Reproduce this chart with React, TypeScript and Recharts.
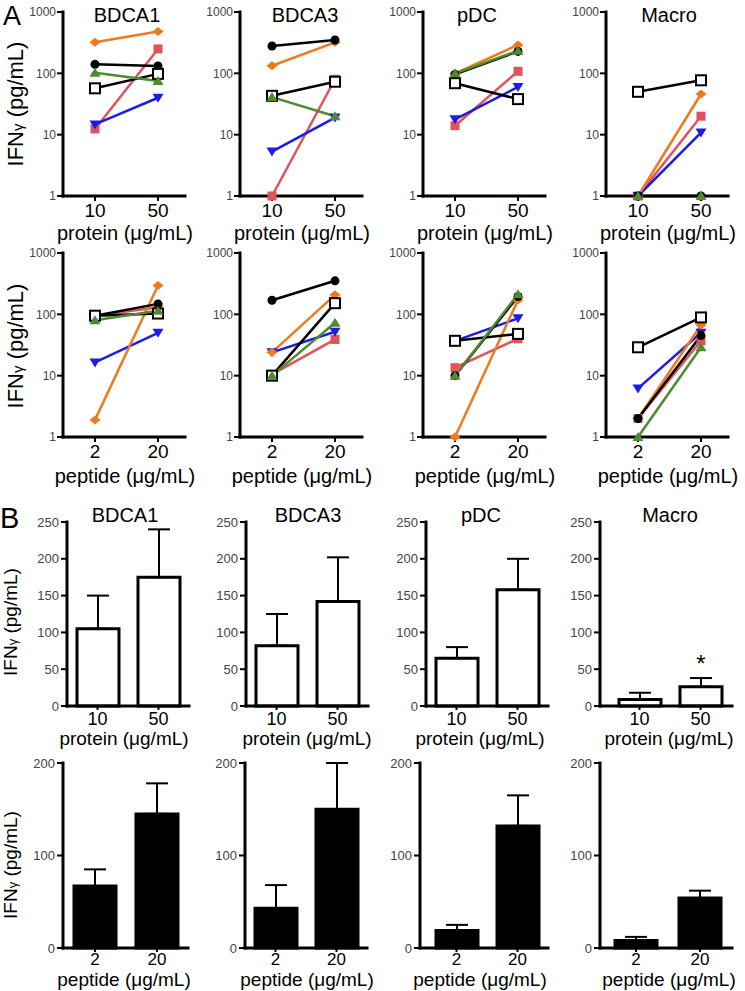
import React from 'react';
import { LineChart, Line, BarChart, Bar, XAxis, YAxis, ErrorBar, LabelList } from 'recharts';

const FONT = 'Liberation Sans, Arial, Helvetica, sans-serif';
const NARROW = 'Liberation Sans Narrow, Liberation Sans, Arial, sans-serif';

// ---------- categories / ticks ----------
const proteinDoses = ['10', '50'];
const peptideDoses = ['2', '20'];
const cellTypes = ['BDCA1', 'BDCA3', 'pDC', 'Macro'];
const logTicks = [1, 10, 100, 1000];
const proteinBarTicks = [0, 50, 100, 150, 200, 250];
const peptideBarTicks = [0, 100, 200];

// ---------- panel A: individual donors (pg/mL) ----------
// series: red ■, blue ▼, orange ◆, black ●, open □, green ▲
const protBDCA1 = { red: [12.4, 250], blue: [14.7, 40], orange: [320, 480], black: [140, 132], open: [57, 98], green: [102, 75] };
const protBDCA3 = { red: [1, 80], blue: [5.3, 19], orange: [133, 320], black: [279, 349], open: [43, 73], green: [41, 20] };
const protPDC = { red: [14, 108], blue: [17.8, 60], orange: [100, 290], black: [96, 228], open: [69, 38], green: [100, 234] };
const protMacro = { red: [1, 20], blue: [1, 10.8], orange: [1, 46], black: [1, 1], open: [50, 77], green: [1, 1] };

const pepBDCA1 = { red: [95, 130], blue: [16.4, 50], orange: [1.9, 296], black: [95, 148], open: [95, 103], green: [80, 114] };
const pepBDCA3 = { red: [10.5, 39], blue: [24, 52], orange: [24, 208], black: [170, 352], open: [10, 152], green: [10, 73] };
const pepPDC = { red: [13.5, 40], blue: [37, 86], orange: [1, 172], black: [10, 195], open: [37, 48], green: [10, 213] };
const pepMacro = { red: [2, 37], blue: [6.2, 50], orange: [2, 67], black: [2, 45], open: [29, 89], green: [1, 29] };

// ---------- panel B: mean ± SEM (pg/mL) ----------
const protBarMean = [[105, 175], [82, 142], [65, 158], [9, 26]];
const protBarSEM = [[45, 65], [43, 60], [15, 42], [9, 12]];
const protBarSig = [['', ''], ['', ''], ['', ''], ['', '*']];
const pepBarMean = [[67, 145], [43, 150], [19, 132], [8, 54]];
const pepBarSEM = [[18, 33], [25, 50], [6, 33], [4, 8]];

const ORDER = ['red', 'blue', 'orange', 'black', 'open', 'green'];
const COLORS: Record<string, string> = {
  red: '#E0535C', blue: '#1C1CE6', orange: '#EF7A1E', black: '#000000', open: '#000000', green: '#4E8B2E',
};

function Marker(props: any) {
  const { cx, cy, kind } = props;
  if (cx == null || cy == null) return null;
  switch (kind) {
    case 'orange':
      return <polygon points={`${cx - 5.5},${cy} ${cx},${cy - 4.5} ${cx + 5.5},${cy} ${cx},${cy + 4.5}`} fill={COLORS.orange} />;
    case 'red':
      return <rect x={cx - 4.5} y={cy - 4.5} width={9} height={9} fill={COLORS.red} />;
    case 'black':
      return <circle cx={cx} cy={cy} r={4.5} fill="#000" />;
    case 'open':
      return <rect x={cx - 5} y={cy - 5} width={10} height={10} fill="#fff" stroke="#000" strokeWidth={2} />;
    case 'green':
      return <polygon points={`${cx - 5.5},${cy + 4} ${cx + 5.5},${cy + 4} ${cx},${cy - 5}`} fill={COLORS.green} />;
    case 'blue':
      return <polygon points={`${cx - 5.5},${cy - 4} ${cx + 5.5},${cy - 4} ${cx},${cy + 5}`} fill={COLORS.blue} />;
    default:
      return null;
  }
}

const axisLineStyle = { stroke: '#000', strokeWidth: 3, strokeLinecap: 'square' as const };
const tickLineStyle = { stroke: '#000', strokeWidth: 2 };

function LogPanel({ axisX, top, bottom, doses, values }: any) {
  const YW = 40, MT = 8, MR = 8, XH = 34, plotW = 122;
  const plotH = bottom - top;
  const rows = doses.map((d: string, i: number) => {
    const r: any = { dose: d };
    ORDER.forEach((k) => { r[k] = values[k][i]; });
    return r;
  });
  return (
    <div style={{ position: 'absolute', left: axisX - YW, top: top - MT }}>
      <LineChart width={YW + plotW + MR} height={MT + plotH + XH} data={rows} margin={{ top: MT, right: MR, left: 0, bottom: 0 }}>
        <XAxis dataKey="dose" padding={{ left: 32, right: 27 }} height={XH} interval={0}
          tick={{ fontSize: 19, fill: '#000', fontFamily: FONT }} tickSize={5} tickMargin={3}
          axisLine={axisLineStyle} tickLine={tickLineStyle} />
        <YAxis type="number" scale="log" domain={[1, 1000]} ticks={logTicks} width={YW} interval={0}
          tick={{ fontSize: 12, fill: '#444', fontFamily: NARROW }} tickSize={6} tickMargin={1}
          axisLine={axisLineStyle} tickLine={tickLineStyle} />
        {ORDER.map((k) => (
          <Line key={k} dataKey={k} stroke={COLORS[k]} strokeWidth={2.5} isAnimationActive={false}
            dot={(p: any) => <Marker key={`${k}-${p.index}`} cx={p.cx} cy={p.cy} kind={k} />} activeDot={false} />
        ))}
      </LineChart>
    </div>
  );
}

function BarPanel({ axisX, top, bottom, plotW, padL, padR, doses, means, sems, sig, ticks, max, fill, tickFont, tickGap }: any) {
  const YW = 40, MT = 10, MR = 8, XH = 30;
  const plotH = bottom - top;
  const rows = doses.map((d: string, i: number) => ({
    dose: d, mean: means[i], err: [0, sems[i]], sig: sig ? sig[i] : '',
  }));
  return (
    <div style={{ position: 'absolute', left: axisX - YW, top: top - MT }}>
      <BarChart width={YW + plotW + MR} height={MT + plotH + XH} data={rows} margin={{ top: MT, right: MR, left: 0, bottom: 0 }}>
        <XAxis dataKey="dose" padding={{ left: padL, right: padR }} height={XH} interval={0}
          tick={{ fontSize: tickFont, fill: '#000', fontFamily: FONT }} tickSize={4} tickMargin={tickGap}
          axisLine={axisLineStyle} tickLine={tickLineStyle} />
        <YAxis type="number" domain={[0, max]} ticks={ticks} width={YW} interval={0}
          tick={{ fontSize: 13, fill: '#444', fontFamily: NARROW }} tickSize={6} tickMargin={2}
          axisLine={axisLineStyle} tickLine={tickLineStyle} />
        <Bar dataKey="mean" fill={fill} stroke="#000" strokeWidth={3} barSize={42} isAnimationActive={false}>
          <ErrorBar dataKey="err" direction="y" width={11} stroke="#000" strokeWidth={2} />
          <LabelList dataKey="sig" content={(p: any) => {
            if (!p.value) return null;
            return (
              <text x={p.x + p.width / 2} y={p.y - 15} textAnchor="middle" fontSize={24} fontFamily={FONT} fill="#000">
                {p.value}
              </text>
            );
          }} />
        </Bar>
      </BarChart>
    </div>
  );
}

const aAxisX = [63, 240, 423, 606];
const b1AxisX = [67, 246, 426, 600];
const b1PlotW = [122, 122, 122, 132];
const b1PadL = [0, 0, 0, 9];
const b1PadR = [0, 0, 0, 1];
const b2AxisX = [63, 245, 420, 600];
const b2PlotW = [125, 122, 128, 132];
const b2PadL = [1, 0, 6, 4];
const b2PadR = [0, 0, 0, 0];

function YLabel({ x, y, size, gsize }: any) {
  return (
    <text transform={`translate(${x},${y}) rotate(-90)`} textAnchor="middle" fontSize={size} fontFamily={FONT} fill="#000">
      IFN<tspan fontSize={gsize}>γ</tspan> (pg/mL)
    </text>
  );
}

export default function App() {
  const protLines = [protBDCA1, protBDCA3, protPDC, protMacro];
  const pepLines = [pepBDCA1, pepBDCA3, pepPDC, pepMacro];
  const titleA = [127, 305, 477, 669];
  const titleB = [125, 308, 481, 670];
  return (
    <div style={{ position: 'absolute', left: 0, top: 0, width: 745, height: 991, background: '#fff', overflow: 'hidden' }}>
      {protLines.map((v, i) => (
        <LogPanel key={`pa${i}`} axisX={aAxisX[i]} top={12} bottom={196} doses={proteinDoses} values={v} />
      ))}
      {pepLines.map((v, i) => (
        <LogPanel key={`pb${i}`} axisX={aAxisX[i]} top={253} bottom={437} doses={peptideDoses} values={v} />
      ))}
      {cellTypes.map((c, i) => (
        <BarPanel key={`ba${i}`} axisX={b1AxisX[i]} top={522} bottom={706} plotW={b1PlotW[i]} padL={b1PadL[i]} padR={b1PadR[i]}
          doses={proteinDoses} means={protBarMean[i]} sems={protBarSEM[i]} sig={protBarSig[i]}
          ticks={proteinBarTicks} max={250} fill="#fff" tickFont={18} tickGap={2} />
      ))}
      {cellTypes.map((c, i) => (
        <BarPanel key={`bb${i}`} axisX={b2AxisX[i]} top={763} bottom={948} plotW={b2PlotW[i]} padL={b2PadL[i]} padR={b2PadR[i]}
          doses={peptideDoses} means={pepBarMean[i]} sems={pepBarSEM[i]}
          ticks={peptideBarTicks} max={200} fill="#000" tickFont={17} tickGap={1} />
      ))}
      <svg width={745} height={991} style={{ position: 'absolute', left: 0, top: 0, pointerEvents: 'none' }}>
        <text x={3} y={25} fontSize={27} fontFamily={FONT} fill="#000">A</text>
        <text x={0} y={528} fontSize={29} fontFamily={FONT} fill="#000">B</text>
        {cellTypes.map((c, i) => (
          <text key={`ta${i}`} x={titleA[i]} y={22} textAnchor="middle" fontSize={20} fontFamily={FONT} fill="#000">{c}</text>
        ))}
        {cellTypes.map((c, i) => (
          <text key={`tb${i}`} x={titleB[i]} y={522} textAnchor="middle" fontSize={20} fontFamily={FONT} fill="#000">{c}</text>
        ))}
        {aAxisX.map((x, i) => (
          <text key={`xa${i}`} x={x + 62} y={240} textAnchor="middle" fontSize={20} fontFamily={FONT} fill="#000">protein (μg/mL)</text>
        ))}
        {aAxisX.map((x, i) => (
          <text key={`xb${i}`} x={x + 62} y={483} textAnchor="middle" fontSize={20} fontFamily={FONT} fill="#000">peptide (μg/mL)</text>
        ))}
        {b1AxisX.map((x, i) => (
          <text key={`xc${i}`} x={titleB[i] - 1} y={745} textAnchor="middle" fontSize={19} fontFamily={FONT} fill="#000">protein (μg/mL)</text>
        ))}
        {b2AxisX.map((x, i) => (
          <text key={`xd${i}`} x={titleB[i] - 1} y={986} textAnchor="middle" fontSize={19} fontFamily={FONT} fill="#000">peptide (μg/mL)</text>
        ))}
        <YLabel x={23} y={104} size={22} gsize={15} />
        <YLabel x={23} y={346} size={22} gsize={15} />
        <YLabel x={17} y={622} size={19} gsize={13} />
        <YLabel x={17} y={865} size={19} gsize={13} />
      </svg>
    </div>
  );
}
